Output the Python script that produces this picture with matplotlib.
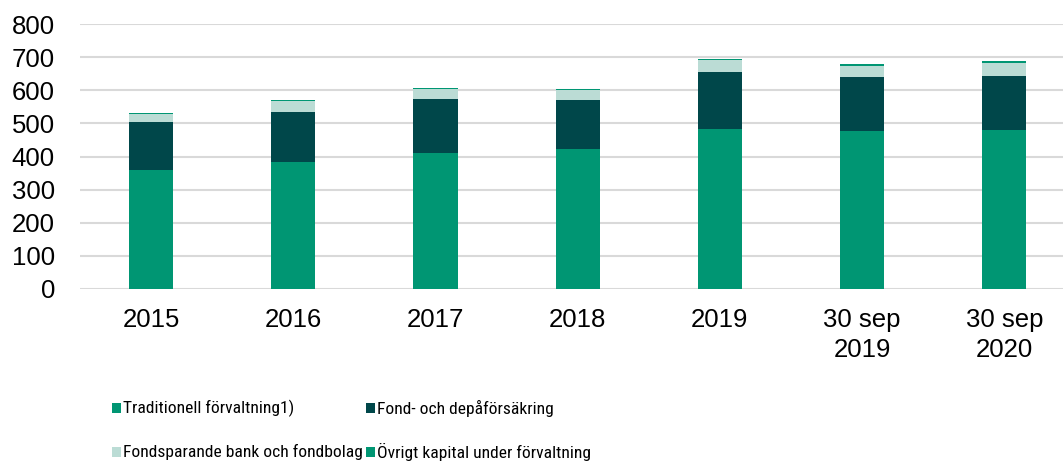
import matplotlib
matplotlib.use("Agg")
import matplotlib.pyplot as plt
from matplotlib.patches import Rectangle
import numpy as np

categories = ["2015", "2016", "2017", "2018", "2019", "30 sep\n2019", "30 sep\n2020"]
series_names = ["Traditionell förvaltning1)", "Fond- och depåförsäkring",
                "Fondsparande bank och fondbolag", "Övrigt kapital under förvaltning"]
traditionell = [360, 383, 410, 423, 484, 476, 480]
fond_depa = [143, 151, 163, 147, 171, 163, 163]
fondsparande = [26, 33, 31, 31, 35, 35, 38]
ovrigt = [3, 3, 4, 4, 4, 4, 8]
colors = ["#009673", "#00474A", "#BBDCD5", "#009673"]
yticks = [0, 100, 200, 300, 400, 500, 600, 700, 800]

W, H = 1063, 463
fig = plt.figure(figsize=(W / 100, H / 100), dpi=100)
ax = fig.add_axes([80 / W, 1 - 289 / H, (W - 80) / W, (289 - 24) / H])

font = ["Liberation Sans", "DejaVu Sans"]
x = np.arange(len(categories))
bottom = np.zeros(len(categories))
for vals, c in zip([traditionell, fond_depa, fondsparande, ovrigt], colors):
    ax.bar(x, vals, width=0.31, bottom=bottom, color=c, zorder=3)
    bottom += np.array(vals)

ax.set_ylim(0, 800)
ax.set_xlim(-0.5, 6.413)
ax.set_yticks(yticks)
ax.set_xticks(x)
ax.set_xticklabels(categories, fontfamily=font, fontsize=18.5, linespacing=1.3)
ax.set_yticklabels([str(v) for v in yticks], fontfamily=font, fontsize=18.5)
ax.tick_params(axis="both", length=0, colors="#000000")
ax.tick_params(axis="y", pad=18)
ax.tick_params(axis="x", pad=14)
ax.yaxis.grid(True, color="#D9D9D9", linewidth=1.5, zorder=0)
ax.set_axisbelow(True)
for s in ax.spines.values():
    s.set_visible(False)

# legend (manual, 2 rows x 2 cols)
legfont = ["Roboto Condensed", "Archivo Narrow", "PT Sans Narrow", "Liberation Sans", "DejaVu Sans"]
pos = [(112, 408), (366, 408), (112, 452), (366, 452)]
for i, (px, py) in enumerate(pos):
    fig.add_artist(Rectangle((px / W, 1 - (py + 5) / H), 9 / W, 10 / H,
                             transform=fig.transFigure, color=colors[i], lw=0))
    fig.text((px + 11) / W, 1 - py / H, series_names[i], fontfamily=legfont,
             fontsize=12.6, va="center", ha="left")

fig.savefig("out.png", dpi=100)
